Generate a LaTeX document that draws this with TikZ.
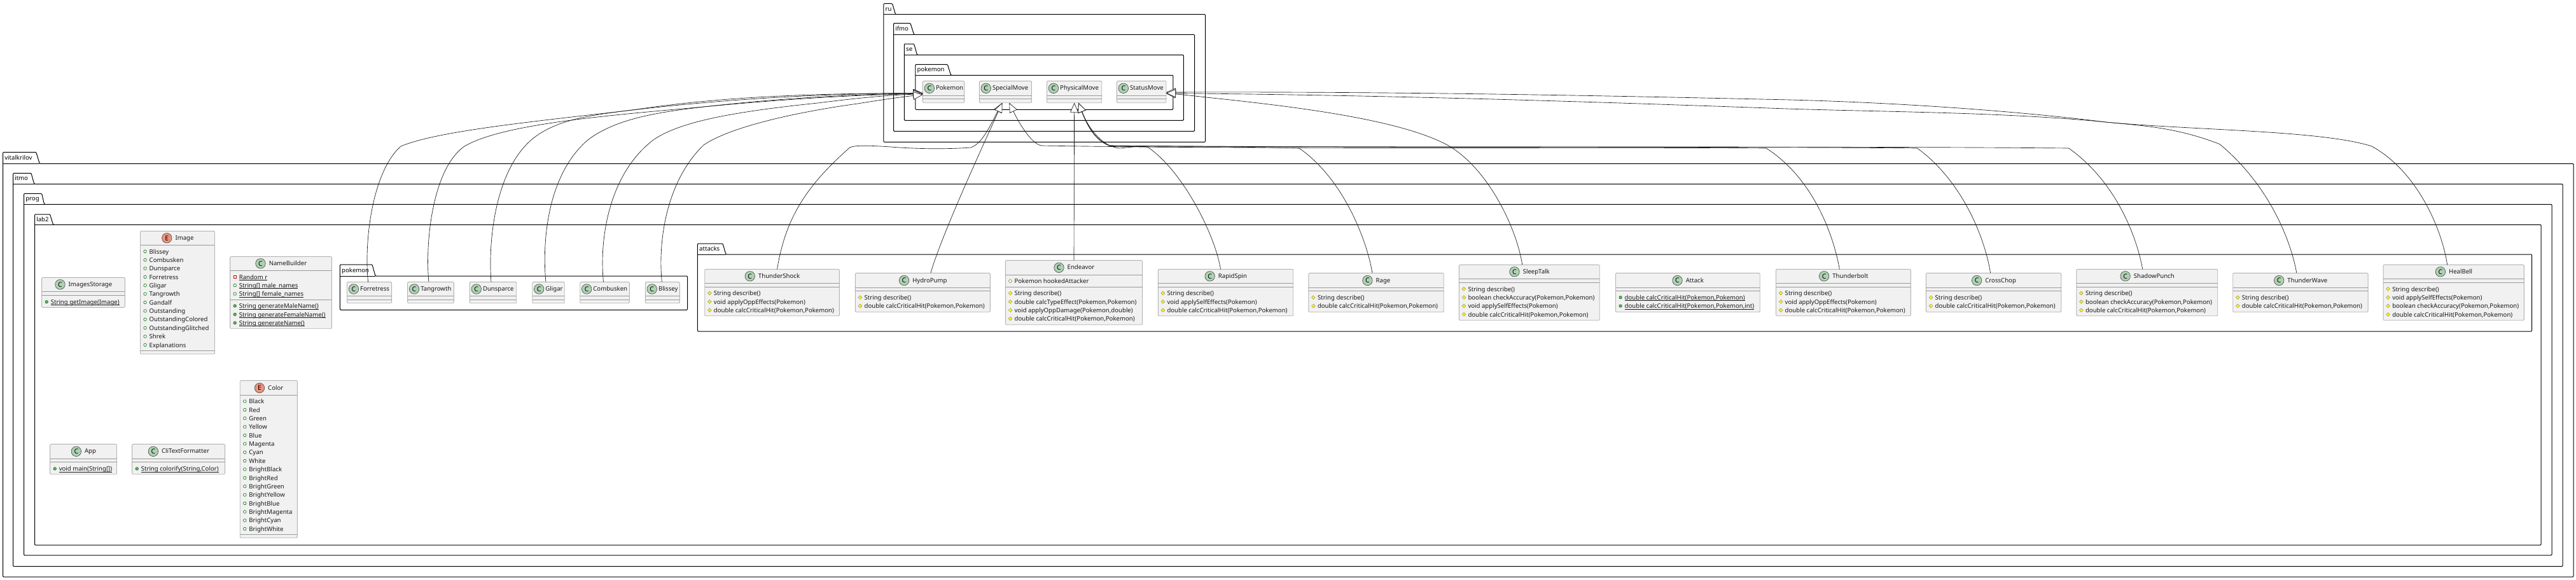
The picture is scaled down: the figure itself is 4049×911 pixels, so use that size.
\documentclass[tikz,border=0pt]{standalone}
\usepackage{fontspec}
\setmainfont{Noto Sans}
\usetikzlibrary{arrows.meta,positioning,shapes.geometric}

\definecolor{boxfill}{HTML}{F1F1F1}
\definecolor{boxline}{HTML}{B4B4B4}
\definecolor{divline}{HTML}{9A9A9A}
\definecolor{inkline}{HTML}{181818}
\definecolor{classgreen}{HTML}{ADD1B2}
\definecolor{enumred}{HTML}{EB937F}

\tikzset{
	pkgline/.style={draw=black,line width=1pt,rounded corners=1.2pt},
	pkglabel/.style={inner sep=0pt,font=\fontsize{9.6}{11}\selectfont\bfseries,text=black,text height=8pt,text depth=2pt},
	classbox/.style={draw=boxline,fill=boxfill,line width=.9pt,rounded corners=1.5pt,inner sep=0pt,outer sep=0pt},
	divider/.style={draw=divline,line width=.8pt},
	titletext/.style={inner sep=0pt,font=\fontsize{9.6}{11}\selectfont,text=inkline,text height=8pt,text depth=2pt},
	membertext/.style={inner sep=0pt,anchor=west,font=\fontsize{9.6}{11}\selectfont,text=inkline,text height=9.5pt,text depth=2.1pt},
	badgeC/.style={circle,draw=inkline!80,line width=.6pt,fill=classgreen,minimum size=15.5pt,inner sep=0pt,font=\fontsize{10.5}{11}\selectfont\bfseries},
	badgeE/.style={circle,draw=inkline!80,line width=.6pt,fill=enumred,minimum size=15.5pt,inner sep=0pt,font=\fontsize{10.5}{11}\selectfont\bfseries},
	pubm/.style={circle,draw=green!40!black,line width=.5pt,fill=green!50!black!60,minimum size=4.6pt,inner sep=0pt},
	pubf/.style={circle,draw=green!40!black,line width=.6pt,fill=white,minimum size=4.6pt,inner sep=0pt},
	privf/.style={rectangle,draw=red!75!black,line width=.6pt,fill=white,minimum size=4.6pt,inner sep=0pt},
	protm/.style={diamond,draw=yellow!55!black,line width=.5pt,fill=yellow!85,minimum size=6pt,inner sep=0pt},
	protf/.style={diamond,draw=yellow!55!black,line width=.6pt,fill=white,minimum size=6pt,inner sep=0pt},
	extends/.style={draw=inkline,line width=.65pt,-{Triangle[length=15pt,width=13pt,fill=white]}},
}

% static members: thin rule just under the baseline
\newsavebox{\ulbox}
\newcommand{\statictext}[1]{\sbox{\ulbox}{#1}\rlap{\rule[-1.5pt]{\wd\ulbox}{.5pt}}\usebox{\ulbox}}

% name, label, x1, tab top, body top, x2, bottom, tab right top, tab right bottom
\newcommand{\umlpackage}[9]{
	\draw[pkgline] (#3,#5) -- (#3,#4) -- (#8,#4) -- (#9,#5) -- (#6,#5) -- (#6,#7) -- (#3,#7) -- cycle;
	\draw[pkgline] (#3,#5) -- (#9,#5);
	\node[pkglabel,anchor=west] (#1) at (#3+2.6,{(#4+#5)/2}) {#2};
}
% name, x1, y1, x2, y2, divider 1, divider 2
\newcommand{\umlframe}[7]{
	\pgfmathsetmacro\boxw{#4-#2}
	\pgfmathsetmacro\boxh{#5-#3}
	\node[classbox,minimum width=\boxw pt,minimum height=\boxh pt] (#1) at ({(#2+#4)/2},{(#3+#5)/2}) {};
	\draw[divider] (#2,#6) -- (#4,#6);
	\draw[divider] (#2,#7) -- (#4,#7);
}
% frame arguments, then badge letter and title
\newcommand{\umlclass}[9]{
	\umlframe{#1}{#2}{#3}{#4}{#5}{#6}{#7}
	\node[titletext] (#1-title) at ({(#2+#4)/2+11},{(#3+#6)/2}) {#9};
	\node[badge#8,left=5pt of #1-title] (#1-badge) {#8};
}
% narrow boxes: badge and title sit at the left edge
\newcommand{\umlsmall}[8]{
	\umlframe{#1}{#2}{#3}{#4}{#5}{#6}{#7}
	\node[titletext,anchor=west] (#1-title) at (#2+20.5,{(#3+#6)/2}) {#8};
	\node[badgeC,left=2pt of #1-title] (#1-badge) {C};
}
% class name, x1, first y, list of icon/text
\newcommand{\members}[4]{
	\foreach \ic/\txt [count=\n from 0] in {#4} {
		\pgfmathsetmacro\yy{#3+13.37*\n}
		\node[\ic] (#1-i#3-\n) at (#2+7.6,\yy) {};
		\node[membertext] (#1-m#3-\n) at (#2+14,\yy) {\txt};
	}
}

\begin{document}
\begin{tikzpicture}[x=1pt,y=-1pt]
	\useasboundingbox (0,0) rectangle (4049,911);
	
	% upper packages
	\umlpackage{pkgRu}{ru}{1388.8}{5.7}{22.7}{1894.6}{223.3}{1402.6}{1407.6}
	\umlpackage{pkgIfmo}{ifmo}{1404.5}{36.7}{54.3}{1877.7}{206.3}{1431}{1436.6}
	\umlpackage{pkgSe}{se}{1421.4}{69}{86.3}{1860.3}{189.3}{1436.6}{1441.5}
	\umlpackage{pkgBase}{pokemon}{1438.8}{101.3}{118.3}{1843.8}{172.3}{1489.3}{1494.6}
	
	% lower packages
	\umlpackage{pkgVital}{vitalkrilov}{4.5}{239.3}{257.3}{4045}{907}{56.7}{62.3}
	\umlpackage{pkgItmo}{itmo}{20.5}{272.3}{289.3}{4028}{890.7}{49}{53.7}
	\umlpackage{pkgProg}{prog}{37.5}{304.3}{321.3}{4011}{873}{65.6}{69.6}
	\umlpackage{pkgLab}{lab2}{54.5}{337}{353.3}{3994}{857}{78.6}{83.5}
	\umlpackage{pkgPoke}{pokemon}{534.4}{416}{434}{1080.6}{487.3}{585}{590}
	\umlpackage{pkgAttacks}{attacks}{1096.4}{383}{400}{3979.6}{521}{1136}{1141}
	
	% base classes
	\umlsmall{Pokemon}{1450.4}{127.3}{1515.6}{161.7}{150.3}{155.7}{Pokemon}
	\umlsmall{SpecialMove}{1539.3}{127.3}{1621.4}{161.7}{150.3}{155.7}{SpecialMove}
	\umlsmall{PhysicalMove}{1645.5}{127.3}{1731.7}{161.7}{150.3}{155.7}{PhysicalMove}
	\umlsmall{StatusMove}{1755.4}{127.3}{1833}{161.7}{150.3}{155.7}{StatusMove}
	
	% pokemons
	\umlsmall{Forretress}{545.5}{443.3}{615.6}{476.7}{465.7}{471.3}{Forretress}
	\umlsmall{Tangrowth}{640.6}{443.3}{713.3}{476.7}{465.7}{471.3}{Tangrowth}
	\umlsmall{Dunsparce}{738.3}{443.3}{811.7}{476.7}{465.7}{471.3}{Dunsparce}
	\umlsmall{Gligar}{836.7}{443.3}{887.2}{476.7}{465.7}{471.3}{Gligar}
	\umlsmall{Combusken}{911.7}{443.3}{989.3}{476.7}{465.7}{471.3}{Combusken}
	\umlsmall{Blissey}{1014.3}{443.3}{1068.4}{476.7}{465.7}{471.3}{Blissey}
	
	% lab2 classes
	\umlclass{ImagesStorage}{65.6}{436.3}{196.4}{483.3}{458.3}{464.3}{C}{ImagesStorage}
	\members{ImagesStorage}{65.6}{474.7}{pubm/\statictext{String getImage(Image)}}
	
	\umlclass{Image}{220.5}{363.3}{337.5}{556.7}{385.3}{551}{E}{Image}
	\members{Image}{220.5}{395.3}{pubf/Blissey,pubf/Combusken,pubf/Dunsparce,pubf/Forretress,pubf/Gligar,pubf/Tangrowth,pubf/Gandalf,pubf/Outstanding,pubf/OutstandingColored,pubf/OutstandingGlitched,pubf/Shrek,pubf/Explanations}
	
	\umlclass{NameBuilder}{361.6}{403.3}{521.4}{516.7}{425.3}{471.3}{C}{NameBuilder}
	\members{NameBuilder}{361.6}{435.3}{privf/\statictext{Random r},pubf/\statictext{String[] male\_names},pubf/\statictext{String[] female\_names}}
	\members{NameBuilder}{361.6}{481}{pubm/\statictext{String generateMaleName()},pubm/\statictext{String generateFemaleName()},pubm/\statictext{String generateName()}}
	
	\umlclass{App}{78.6}{698.3}{183.5}{745.7}{721.3}{726.3}{C}{App}
	\members{App}{78.6}{737}{pubm/\statictext{void main(String[])}}
	
	\umlclass{CliTextFormatter}{207.6}{698.3}{353.6}{745.7}{721.3}{726.3}{C}{CliTextFormatter}
	\members{CliTextFormatter}{207.6}{737}{pubm/{\statictext{String colorify(String,Color)}}}
	
	\umlclass{Color}{377.2}{598.3}{467.4}{845.7}{621.7}{840.3}{E}{Color}
	\members{Color}{377.2}{631}{pubf/Black,pubf/Red,pubf/Green,pubf/Yellow,pubf/Blue,pubf/Magenta,pubf/Cyan,pubf/White,pubf/BrightBlack,pubf/BrightRed,pubf/BrightGreen,pubf/BrightYellow,pubf/BrightBlue,pubf/BrightMagenta,pubf/BrightCyan,pubf/BrightWhite}
	
	% attacks
	\umlclass{ThunderShock}{1107.7}{423.3}{1319.4}{496.7}{445.3}{451.3}{C}{ThunderShock}
	\members{ThunderShock}{1107.7}{461}{protm/String describe(),protm/void applyOppEffects(Pokemon),protm/{double calcCriticalHit(Pokemon,Pokemon)}}
	
	\umlclass{HydroPump}{1344.4}{429.3}{1556.3}{490.7}{452.7}{457.3}{C}{HydroPump}
	\members{HydroPump}{1344.4}{467.7}{protm/String describe(),protm/{double calcCriticalHit(Pokemon,Pokemon)}}
	
	\umlclass{Endeavor}{1580.4}{409.3}{1795.6}{510.7}{432.3}{451.7}{C}{Endeavor}
	\members{Endeavor}{1580.4}{442}{protf/Pokemon hookedAttacker}
	\members{Endeavor}{1580.4}{461}{protm/String describe(),protm/{double calcTypeEffect(Pokemon,Pokemon)},protm/{void applyOppDamage(Pokemon,double)},protm/{double calcCriticalHit(Pokemon,Pokemon)}}
	
	\umlclass{RapidSpin}{1820.3}{423.3}{2032.7}{496.7}{445.3}{451.3}{C}{RapidSpin}
	\members{RapidSpin}{1820.3}{461}{protm/String describe(),protm/void applySelfEffects(Pokemon),protm/{double calcCriticalHit(Pokemon,Pokemon)}}
	
	\umlclass{Rage}{2056.8}{429.3}{2269.2}{490.7}{452.7}{457.3}{C}{Rage}
	\members{Rage}{2056.8}{467.7}{protm/String describe(),protm/{double calcCriticalHit(Pokemon,Pokemon)}}
	
	\umlclass{SleepTalk}{2293.3}{416.3}{2514.2}{503.7}{438.3}{444.3}{C}{SleepTalk}
	\members{SleepTalk}{2293.3}{454.3}{protm/String describe(),protm/{boolean checkAccuracy(Pokemon,Pokemon)},protm/void applySelfEffects(Pokemon),protm/{double calcCriticalHit(Pokemon,Pokemon)}}
	
	\umlclass{Attack}{2539.5}{429.3}{2766.2}{490.7}{452.7}{457.3}{C}{Attack}
	\members{Attack}{2539.5}{467.7}{pubm/{\statictext{double calcCriticalHit(Pokemon,Pokemon)}},pubm/{\statictext{double calcCriticalHit(Pokemon,Pokemon,int)}}}
	
	\umlclass{Thunderbolt}{2791.5}{423.3}{3003.3}{496.7}{445.3}{451.3}{C}{Thunderbolt}
	\members{Thunderbolt}{2791.5}{461}{protm/String describe(),protm/void applyOppEffects(Pokemon),protm/{double calcCriticalHit(Pokemon,Pokemon)}}
	
	\umlclass{CrossChop}{3027.4}{429.3}{3239.8}{490.7}{452.7}{457.3}{C}{CrossChop}
	\members{CrossChop}{3027.4}{467.7}{protm/String describe(),protm/{double calcCriticalHit(Pokemon,Pokemon)}}
	
	\umlclass{ShadowPunch}{3263.8}{423.3}{3485.7}{496.7}{445.3}{451.3}{C}{ShadowPunch}
	\members{ShadowPunch}{3263.8}{461}{protm/String describe(),protm/{boolean checkAccuracy(Pokemon,Pokemon)},protm/{double calcCriticalHit(Pokemon,Pokemon)}}
	
	\umlclass{ThunderWave}{3509.7}{429.3}{3722}{490.7}{452.7}{457.3}{C}{ThunderWave}
	\members{ThunderWave}{3509.7}{467.7}{protm/String describe(),protm/{double calcCriticalHit(Pokemon,Pokemon)}}
	
	\umlclass{HealBell}{3746}{416.3}{3967.3}{503.7}{438.3}{444.3}{C}{HealBell}
	\members{HealBell}{3746}{454.3}{protm/String describe(),protm/void applySelfEffects(Pokemon),protm/{boolean checkAccuracy(Pokemon,Pokemon)},protm/{double calcCriticalHit(Pokemon,Pokemon)}}
	
	% extends Pokemon
	\draw[extends] ([xshift=-2pt]Forretress.north) .. controls (572,380) and (585,270) .. (630,230) .. controls (690,205) and (850,190) .. (1003,172) .. controls (1150,155) and (1300,147) .. ([yshift=-2pt]Pokemon.west);
	\draw[extends] ([xshift=-3pt]Tangrowth.north) .. controls (668,380) and (680,265) .. (730,230) .. controls (790,195) and (950,182) .. (1106,168) .. controls (1220,157) and (1340,149) .. ([yshift=-3pt]Pokemon.west);
	\draw[extends] ([xshift=-3pt]Dunsparce.north) .. controls (767,380) and (778,265) .. (839,216.7) .. controls (880,185) and (940,180) .. (1003,171.7) .. controls (1150,150) and (1300,147) .. ([yshift=-2pt]Pokemon.west);
	\draw[extends] ([xshift=-4pt]Gligar.north) .. controls (852,380) and (860,275) .. (924,220) .. controls (970,185) and (1040,176) .. (1106,168) .. controls (1220,155) and (1340,148) .. ([yshift=-2.5pt]Pokemon.west);
	\draw[extends] ([xshift=-2pt]Combusken.north) .. controls (942,380) and (955,275) .. (1027,220) .. controls (1070,190) and (1160,175) .. (1288,161.7) .. controls (1340,155) and (1400,149) .. ([yshift=-3.5pt]Pokemon.west);
	\draw[extends] ([xshift=-1pt]Blissey.north) .. controls (1034,380) and (1047,285) .. (1106,228) .. controls (1150,198) and (1260,175) .. (1348,163) .. controls (1385,157) and (1420,152) .. ([yshift=-4.5pt]Pokemon.west);
	
	% extends SpecialMove
	\draw[extends] ([xshift=8pt]ThunderShock.north) .. controls (1235,340) and (1270,290) .. (1336,231.7) .. controls (1345,228) and (1370,229) .. (1400,231) .. controls (1450,235) and (1500,234) .. (1526,232) .. controls (1545,226) and (1560,190) .. ([xshift=-5pt]SpecialMove.south);
	\draw[extends] ([xshift=12.5pt]HydroPump.north) .. controls (1480,370) and (1540,240) .. ([xshift=-5pt]SpecialMove.south);
	\draw[extends] ([xshift=-6pt]Thunderbolt.north) .. controls (2882,370) and (2850,280) .. (2776,233) .. controls (2500,231) and (2000,235) .. (1637,229) .. controls (1620,226) and (1600,190) .. ([xshift=6pt]SpecialMove.south);
	
	% extends PhysicalMove
	\draw[extends] (Endeavor.north) -- (PhysicalMove.south);
	\draw[extends] ([xshift=-8pt]RapidSpin.north) .. controls (1910,370) and (1860,270) .. (1805,232) .. controls (1795,228) and (1775,232) .. (1759,233) .. controls (1735,231) and (1712,205) .. ([xshift=6.5pt]PhysicalMove.south);
	\draw[extends] ([xshift=-6pt]Rage.north) .. controls (2148,375) and (2110,280) .. (2042,233) .. controls (1900,229) and (1800,233) .. (1744,229) .. controls (1725,222) and (1712,205) .. ([xshift=6.5pt]PhysicalMove.south);
	\draw[extends] ([xshift=-5pt]CrossChop.north) .. controls (3120,375) and (3085,285) .. (3013.5,233) .. controls (2700,230) and (2000,232) .. (1744,229) .. controls (1725,222) and (1712,205) .. ([xshift=6.5pt]PhysicalMove.south);
	\draw[extends] ([xshift=-7pt]ShadowPunch.north) .. controls (3358,370) and (3325,285) .. (3251.6,233) .. controls (2800,229) and (2100,233) .. (1744,229) .. controls (1725,222) and (1712,205) .. ([xshift=6.5pt]PhysicalMove.south);
	
	% extends StatusMove
	\draw[extends] ([xshift=-11pt]SleepTalk.north) .. controls (2384,360) and (2340,265) .. (2275,228) .. controls (2200,188) and (2040,168) .. (1896,153) .. controls (1870,150) and (1850,148) .. ([yshift=-2.5pt]StatusMove.east);
	\draw[extends] ([xshift=-6pt]ThunderWave.north) .. controls (3600,375) and (3565,290) .. (3489,226.7) .. controls (3420,200) and (3370,198) .. (3310,192) .. controls (3150,172) and (2950,160) .. (2800,156.7) .. controls (2500,150) and (2200,144) .. ([yshift=-.5pt]StatusMove.east);
	\draw[extends] ([xshift=-10pt]HealBell.north) .. controls (3838,360) and (3800,270) .. (3728,230) .. controls (3650,205) and (3450,205) .. (3310,192) .. controls (3150,176) and (2950,176) .. (2800,170.7) .. controls (2500,160) and (2200,150) .. ([yshift=-2pt]StatusMove.east);
	
\end{tikzpicture}
\end{document}
